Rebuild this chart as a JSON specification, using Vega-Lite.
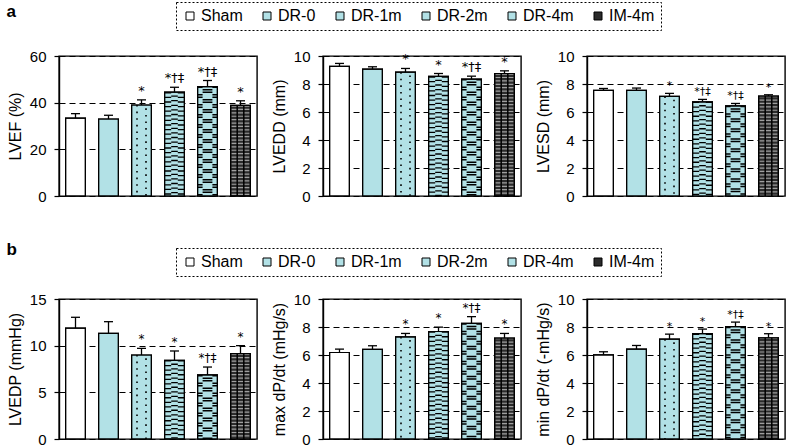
{
"$schema": "https://vega.github.io/schema/vega-lite/v6.json",
"padding": {"left": 6, "top": 0, "right": 2, "bottom": 0},
"background": "white",
"datasets": {
"LVEF": [{"group":"Sham","mean":33.4,"upper":35.3,"sig":""},{"group":"DR-0","mean":33.0,"upper":34.6,"sig":""},{"group":"DR-1m","mean":39.0,"upper":41.2,"sig":"*"},{"group":"DR-2m","mean":44.5,"upper":46.6,"sig":"*†‡"},{"group":"DR-4m","mean":46.9,"upper":49.5,"sig":"*†‡"},{"group":"IM-4m","mean":38.8,"upper":40.8,"sig":"*"}],
"LVEDD": [{"group":"Sham","mean":9.26,"upper":9.47,"sig":""},{"group":"DR-0","mean":9.06,"upper":9.23,"sig":""},{"group":"DR-1m","mean":8.85,"upper":9.11,"sig":"*"},{"group":"DR-2m","mean":8.54,"upper":8.75,"sig":"*"},{"group":"DR-4m","mean":8.35,"upper":8.56,"sig":"*†‡"},{"group":"IM-4m","mean":8.75,"upper":8.94,"sig":"*"}],
"LVESD": [{"group":"Sham","mean":7.54,"upper":7.68,"sig":""},{"group":"DR-0","mean":7.54,"upper":7.71,"sig":""},{"group":"DR-1m","mean":7.11,"upper":7.33,"sig":"*"},{"group":"DR-2m","mean":6.73,"upper":6.9,"sig":"*†‡"},{"group":"DR-4m","mean":6.44,"upper":6.61,"sig":"*†‡"},{"group":"IM-4m","mean":7.14,"upper":7.23,"sig":"*"}],
"LVEDP": [{"group":"Sham","mean":11.89,"upper":13.04,"sig":""},{"group":"DR-0","mean":11.32,"upper":12.57,"sig":""},{"group":"DR-1m","mean":9.0,"upper":9.71,"sig":"*"},{"group":"DR-2m","mean":8.43,"upper":9.43,"sig":"*"},{"group":"DR-4m","mean":6.86,"upper":7.71,"sig":"*†‡"},{"group":"IM-4m","mean":9.14,"upper":10.0,"sig":"*"}],
"maxdPdt": [{"group":"Sham","mean":6.18,"upper":6.42,"sig":""},{"group":"DR-0","mean":6.4,"upper":6.66,"sig":""},{"group":"DR-1m","mean":7.3,"upper":7.54,"sig":"*"},{"group":"DR-2m","mean":7.68,"upper":7.99,"sig":"*"},{"group":"DR-4m","mean":8.26,"upper":8.74,"sig":"*†‡"},{"group":"IM-4m","mean":7.21,"upper":7.54,"sig":"*"}],
"mindPdt": [{"group":"Sham","mean":6.01,"upper":6.23,"sig":""},{"group":"DR-0","mean":6.42,"upper":6.68,"sig":""},{"group":"DR-1m","mean":7.14,"upper":7.49,"sig":"*"},{"group":"DR-2m","mean":7.52,"upper":7.85,"sig":"*"},{"group":"DR-4m","mean":8.02,"upper":8.35,"sig":"*†‡"},{"group":"IM-4m","mean":7.23,"upper":7.52,"sig":"*"}]
},
"spacing": 34,
"resolve": {"scale": {"fill": "independent"}},
"vconcat": [
{
"title": {"text": "a", "anchor": "start", "fontSize": 17, "fontWeight": "bold", "offset": -20},
"bounds": "flush",
"spacing": 66,
"resolve": {"scale": {"fill": "independent"}},
"hconcat": [
{"width": 198, "height": 140, "data": {"name": "LVEF"},
"encoding": {"x": {"field": "group", "type": "nominal", "axis": null, "scale": {"domain": ["Sham","DR-0","DR-1m","DR-2m","DR-4m","IM-4m"], "paddingInner": 0.4, "paddingOuter": 0.2}}},
"layer": [
{"mark": {"type": "bar", "stroke": "black", "strokeWidth": 1.2}, "encoding": {"y": {"field": "mean", "type": "quantitative", "title": "LVEF (%)", "scale": {"domain": [0, 60], "nice": false}, "axis": {"values": [0, 20, 40, 60]}}, "fill": {"field": "group", "type": "nominal", "scale": {"domain": ["Sham","DR-0","DR-1m","DR-2m","DR-4m","IM-4m"], "range": ["#ffffff","#b2e1e6","#b2e1e6","#b2e1e6","#b2e1e6","#2b2b2b"]}, "legend": null}}},
{"encoding": {"y": {"field": "mean", "type": "quantitative", "title": "LVEF (%)"}, "y2": {"datum": 0}},
"layer": [
{"transform": [{"filter": "datum.group === 'DR-1m'"}], "mark": {"type": "rule", "color": "#000", "strokeWidth": 1.6, "strokeDash": [1.6, 5], "xOffset": -4.5}},
{"transform": [{"filter": "datum.group === 'DR-1m'"}], "mark": {"type": "rule", "color": "#000", "strokeWidth": 1.6, "strokeDash": [1.6, 5], "strokeDashOffset": 3.3, "xOffset": 4.5}},
{"transform": [{"filter": "datum.group === 'DR-2m'"}], "mark": {"type": "rule", "color": "#000", "strokeWidth": 6.6, "strokeDash": [1.3, 3.3], "xOffset": -6.6}},
{"transform": [{"filter": "datum.group === 'DR-2m'"}], "mark": {"type": "rule", "color": "#000", "strokeWidth": 6.6, "strokeDash": [1.3, 3.3], "strokeDashOffset": 1.3, "xOffset": 0}},
{"transform": [{"filter": "datum.group === 'DR-2m'"}], "mark": {"type": "rule", "color": "#000", "strokeWidth": 6.6, "strokeDash": [1.3, 3.3], "xOffset": 6.6}},
{"transform": [{"filter": "datum.group === 'DR-4m'"}], "mark": {"type": "rule", "color": "#000", "strokeWidth": 4.9, "strokeDash": [1.5, 6, 1.5, 1], "xOffset": -7.35}},
{"transform": [{"filter": "datum.group === 'DR-4m'"}], "mark": {"type": "rule", "color": "#000", "strokeWidth": 4.9, "strokeDash": [1.5, 6, 1.5, 1], "xOffset": 7.35}},
{"transform": [{"filter": "datum.group === 'DR-4m'"}], "mark": {"type": "rule", "color": "#000", "strokeWidth": 9.8, "strokeDash": [1.5, 1, 1.5, 6], "strokeDashOffset": 7.5, "xOffset": 0}},
{"transform": [{"filter": "datum.group === 'IM-4m'"}], "mark": {"type": "rule", "color": "#ffffff", "opacity": 0.55, "strokeWidth": 18, "strokeDash": [1.2, 2.2]}},
{"transform": [{"filter": "datum.group === 'IM-4m'"}], "mark": {"type": "rule", "color": "#000", "strokeWidth": 1.5, "xOffset": -3.3}},
{"transform": [{"filter": "datum.group === 'IM-4m'"}], "mark": {"type": "rule", "color": "#000", "strokeWidth": 1.5, "xOffset": 3.3}}
]},
{"mark": {"type": "bar", "fillOpacity": 0, "stroke": "black", "strokeWidth": 1.2}, "encoding": {"y": {"field": "mean", "type": "quantitative", "title": "LVEF (%)"}}},
{"mark": {"type": "rule", "color": "black", "strokeWidth": 1.3}, "encoding": {"y": {"field": "mean", "type": "quantitative", "title": "LVEF (%)"}, "y2": {"field": "upper"}}},
{"mark": {"type": "tick", "color": "black", "size": 9, "thickness": 1.3, "opacity": 1}, "encoding": {"y": {"field": "upper", "type": "quantitative", "title": "LVEF (%)"}}},
{"mark": {"type": "text", "color": "black", "font": "DejaVu Sans", "baseline": "bottom", "dy": -2, "fontSize": 13}, "encoding": {"y": {"field": "upper", "type": "quantitative", "title": "LVEF (%)"}, "text": {"field": "sig"}}}
]},
{"width": 198, "height": 140, "data": {"name": "LVEDD"},
"encoding": {"x": {"field": "group", "type": "nominal", "axis": null, "scale": {"domain": ["Sham","DR-0","DR-1m","DR-2m","DR-4m","IM-4m"], "paddingInner": 0.4, "paddingOuter": 0.2}}},
"layer": [
{"mark": {"type": "bar", "stroke": "black", "strokeWidth": 1.2}, "encoding": {"y": {"field": "mean", "type": "quantitative", "title": "LVEDD (mm)", "scale": {"domain": [0, 10], "nice": false}, "axis": {"values": [0, 2, 4, 6, 8, 10]}}, "fill": {"field": "group", "type": "nominal", "scale": {"domain": ["Sham","DR-0","DR-1m","DR-2m","DR-4m","IM-4m"], "range": ["#ffffff","#b2e1e6","#b2e1e6","#b2e1e6","#b2e1e6","#2b2b2b"]}, "legend": {"orient": "none", "legendX": -147, "legendY": -54, "direction": "horizontal", "title": null, "encode": {"legend": {"update": {"strokeDash": {"value": [2, 2]}}}}}}}},
{"encoding": {"y": {"field": "mean", "type": "quantitative", "title": "LVEDD (mm)"}, "y2": {"datum": 0}},
"layer": [
{"transform": [{"filter": "datum.group === 'DR-1m'"}], "mark": {"type": "rule", "color": "#000", "strokeWidth": 1.6, "strokeDash": [1.6, 5], "xOffset": -4.5}},
{"transform": [{"filter": "datum.group === 'DR-1m'"}], "mark": {"type": "rule", "color": "#000", "strokeWidth": 1.6, "strokeDash": [1.6, 5], "strokeDashOffset": 3.3, "xOffset": 4.5}},
{"transform": [{"filter": "datum.group === 'DR-2m'"}], "mark": {"type": "rule", "color": "#000", "strokeWidth": 6.6, "strokeDash": [1.3, 3.3], "xOffset": -6.6}},
{"transform": [{"filter": "datum.group === 'DR-2m'"}], "mark": {"type": "rule", "color": "#000", "strokeWidth": 6.6, "strokeDash": [1.3, 3.3], "strokeDashOffset": 1.3, "xOffset": 0}},
{"transform": [{"filter": "datum.group === 'DR-2m'"}], "mark": {"type": "rule", "color": "#000", "strokeWidth": 6.6, "strokeDash": [1.3, 3.3], "xOffset": 6.6}},
{"transform": [{"filter": "datum.group === 'DR-4m'"}], "mark": {"type": "rule", "color": "#000", "strokeWidth": 4.9, "strokeDash": [1.5, 6, 1.5, 1], "xOffset": -7.35}},
{"transform": [{"filter": "datum.group === 'DR-4m'"}], "mark": {"type": "rule", "color": "#000", "strokeWidth": 4.9, "strokeDash": [1.5, 6, 1.5, 1], "xOffset": 7.35}},
{"transform": [{"filter": "datum.group === 'DR-4m'"}], "mark": {"type": "rule", "color": "#000", "strokeWidth": 9.8, "strokeDash": [1.5, 1, 1.5, 6], "strokeDashOffset": 7.5, "xOffset": 0}},
{"transform": [{"filter": "datum.group === 'IM-4m'"}], "mark": {"type": "rule", "color": "#ffffff", "opacity": 0.55, "strokeWidth": 18, "strokeDash": [1.2, 2.2]}},
{"transform": [{"filter": "datum.group === 'IM-4m'"}], "mark": {"type": "rule", "color": "#000", "strokeWidth": 1.5, "xOffset": -3.3}},
{"transform": [{"filter": "datum.group === 'IM-4m'"}], "mark": {"type": "rule", "color": "#000", "strokeWidth": 1.5, "xOffset": 3.3}}
]},
{"mark": {"type": "bar", "fillOpacity": 0, "stroke": "black", "strokeWidth": 1.2}, "encoding": {"y": {"field": "mean", "type": "quantitative", "title": "LVEDD (mm)"}}},
{"mark": {"type": "rule", "color": "black", "strokeWidth": 1.3}, "encoding": {"y": {"field": "mean", "type": "quantitative", "title": "LVEDD (mm)"}, "y2": {"field": "upper"}}},
{"mark": {"type": "tick", "color": "black", "size": 9, "thickness": 1.3, "opacity": 1}, "encoding": {"y": {"field": "upper", "type": "quantitative", "title": "LVEDD (mm)"}}},
{"mark": {"type": "text", "color": "black", "font": "DejaVu Sans", "baseline": "bottom", "dy": -2, "fontSize": 13}, "encoding": {"y": {"field": "upper", "type": "quantitative", "title": "LVEDD (mm)"}, "text": {"field": "sig"}}}
]},
{"width": 198, "height": 140, "data": {"name": "LVESD"},
"encoding": {"x": {"field": "group", "type": "nominal", "axis": null, "scale": {"domain": ["Sham","DR-0","DR-1m","DR-2m","DR-4m","IM-4m"], "paddingInner": 0.4, "paddingOuter": 0.2}}},
"layer": [
{"mark": {"type": "bar", "stroke": "black", "strokeWidth": 1.2}, "encoding": {"y": {"field": "mean", "type": "quantitative", "title": "LVESD (mm)", "scale": {"domain": [0, 10], "nice": false}, "axis": {"values": [0, 2, 4, 6, 8, 10]}}, "fill": {"field": "group", "type": "nominal", "scale": {"domain": ["Sham","DR-0","DR-1m","DR-2m","DR-4m","IM-4m"], "range": ["#ffffff","#b2e1e6","#b2e1e6","#b2e1e6","#b2e1e6","#2b2b2b"]}, "legend": null}}},
{"encoding": {"y": {"field": "mean", "type": "quantitative", "title": "LVESD (mm)"}, "y2": {"datum": 0}},
"layer": [
{"transform": [{"filter": "datum.group === 'DR-1m'"}], "mark": {"type": "rule", "color": "#000", "strokeWidth": 1.6, "strokeDash": [1.6, 5], "xOffset": -4.5}},
{"transform": [{"filter": "datum.group === 'DR-1m'"}], "mark": {"type": "rule", "color": "#000", "strokeWidth": 1.6, "strokeDash": [1.6, 5], "strokeDashOffset": 3.3, "xOffset": 4.5}},
{"transform": [{"filter": "datum.group === 'DR-2m'"}], "mark": {"type": "rule", "color": "#000", "strokeWidth": 6.6, "strokeDash": [1.3, 3.3], "xOffset": -6.6}},
{"transform": [{"filter": "datum.group === 'DR-2m'"}], "mark": {"type": "rule", "color": "#000", "strokeWidth": 6.6, "strokeDash": [1.3, 3.3], "strokeDashOffset": 1.3, "xOffset": 0}},
{"transform": [{"filter": "datum.group === 'DR-2m'"}], "mark": {"type": "rule", "color": "#000", "strokeWidth": 6.6, "strokeDash": [1.3, 3.3], "xOffset": 6.6}},
{"transform": [{"filter": "datum.group === 'DR-4m'"}], "mark": {"type": "rule", "color": "#000", "strokeWidth": 4.9, "strokeDash": [1.5, 6, 1.5, 1], "xOffset": -7.35}},
{"transform": [{"filter": "datum.group === 'DR-4m'"}], "mark": {"type": "rule", "color": "#000", "strokeWidth": 4.9, "strokeDash": [1.5, 6, 1.5, 1], "xOffset": 7.35}},
{"transform": [{"filter": "datum.group === 'DR-4m'"}], "mark": {"type": "rule", "color": "#000", "strokeWidth": 9.8, "strokeDash": [1.5, 1, 1.5, 6], "strokeDashOffset": 7.5, "xOffset": 0}},
{"transform": [{"filter": "datum.group === 'IM-4m'"}], "mark": {"type": "rule", "color": "#ffffff", "opacity": 0.55, "strokeWidth": 18, "strokeDash": [1.2, 2.2]}},
{"transform": [{"filter": "datum.group === 'IM-4m'"}], "mark": {"type": "rule", "color": "#000", "strokeWidth": 1.5, "xOffset": -3.3}},
{"transform": [{"filter": "datum.group === 'IM-4m'"}], "mark": {"type": "rule", "color": "#000", "strokeWidth": 1.5, "xOffset": 3.3}}
]},
{"mark": {"type": "bar", "fillOpacity": 0, "stroke": "black", "strokeWidth": 1.2}, "encoding": {"y": {"field": "mean", "type": "quantitative", "title": "LVESD (mm)"}}},
{"mark": {"type": "rule", "color": "black", "strokeWidth": 1.3}, "encoding": {"y": {"field": "mean", "type": "quantitative", "title": "LVESD (mm)"}, "y2": {"field": "upper"}}},
{"mark": {"type": "tick", "color": "black", "size": 9, "thickness": 1.3, "opacity": 1}, "encoding": {"y": {"field": "upper", "type": "quantitative", "title": "LVESD (mm)"}}},
{"mark": {"type": "text", "color": "black", "font": "DejaVu Sans", "baseline": "bottom", "dy": -2, "fontSize": 11}, "encoding": {"y": {"field": "upper", "type": "quantitative", "title": "LVESD (mm)"}, "text": {"field": "sig"}}}
]}
]
},
{
"title": {"text": "b", "anchor": "start", "fontSize": 17, "fontWeight": "bold", "offset": -12},
"bounds": "flush",
"spacing": 66,
"resolve": {"scale": {"fill": "independent"}},
"hconcat": [
{"width": 198, "height": 140, "data": {"name": "LVEDP"},
"encoding": {"x": {"field": "group", "type": "nominal", "axis": null, "scale": {"domain": ["Sham","DR-0","DR-1m","DR-2m","DR-4m","IM-4m"], "paddingInner": 0.4, "paddingOuter": 0.2}}},
"layer": [
{"mark": {"type": "bar", "stroke": "black", "strokeWidth": 1.2}, "encoding": {"y": {"field": "mean", "type": "quantitative", "title": "LVEDP (mmHg)", "scale": {"domain": [0, 15], "nice": false}, "axis": {"values": [0, 5, 10, 15]}}, "fill": {"field": "group", "type": "nominal", "scale": {"domain": ["Sham","DR-0","DR-1m","DR-2m","DR-4m","IM-4m"], "range": ["#ffffff","#b2e1e6","#b2e1e6","#b2e1e6","#b2e1e6","#2b2b2b"]}, "legend": null}}},
{"encoding": {"y": {"field": "mean", "type": "quantitative", "title": "LVEDP (mmHg)"}, "y2": {"datum": 0}},
"layer": [
{"transform": [{"filter": "datum.group === 'DR-1m'"}], "mark": {"type": "rule", "color": "#000", "strokeWidth": 1.6, "strokeDash": [1.6, 5], "xOffset": -4.5}},
{"transform": [{"filter": "datum.group === 'DR-1m'"}], "mark": {"type": "rule", "color": "#000", "strokeWidth": 1.6, "strokeDash": [1.6, 5], "strokeDashOffset": 3.3, "xOffset": 4.5}},
{"transform": [{"filter": "datum.group === 'DR-2m'"}], "mark": {"type": "rule", "color": "#000", "strokeWidth": 6.6, "strokeDash": [1.3, 3.3], "xOffset": -6.6}},
{"transform": [{"filter": "datum.group === 'DR-2m'"}], "mark": {"type": "rule", "color": "#000", "strokeWidth": 6.6, "strokeDash": [1.3, 3.3], "strokeDashOffset": 1.3, "xOffset": 0}},
{"transform": [{"filter": "datum.group === 'DR-2m'"}], "mark": {"type": "rule", "color": "#000", "strokeWidth": 6.6, "strokeDash": [1.3, 3.3], "xOffset": 6.6}},
{"transform": [{"filter": "datum.group === 'DR-4m'"}], "mark": {"type": "rule", "color": "#000", "strokeWidth": 4.9, "strokeDash": [1.5, 6, 1.5, 1], "xOffset": -7.35}},
{"transform": [{"filter": "datum.group === 'DR-4m'"}], "mark": {"type": "rule", "color": "#000", "strokeWidth": 4.9, "strokeDash": [1.5, 6, 1.5, 1], "xOffset": 7.35}},
{"transform": [{"filter": "datum.group === 'DR-4m'"}], "mark": {"type": "rule", "color": "#000", "strokeWidth": 9.8, "strokeDash": [1.5, 1, 1.5, 6], "strokeDashOffset": 7.5, "xOffset": 0}},
{"transform": [{"filter": "datum.group === 'IM-4m'"}], "mark": {"type": "rule", "color": "#ffffff", "opacity": 0.55, "strokeWidth": 18, "strokeDash": [1.2, 2.2]}},
{"transform": [{"filter": "datum.group === 'IM-4m'"}], "mark": {"type": "rule", "color": "#000", "strokeWidth": 1.5, "xOffset": -3.3}},
{"transform": [{"filter": "datum.group === 'IM-4m'"}], "mark": {"type": "rule", "color": "#000", "strokeWidth": 1.5, "xOffset": 3.3}}
]},
{"mark": {"type": "bar", "fillOpacity": 0, "stroke": "black", "strokeWidth": 1.2}, "encoding": {"y": {"field": "mean", "type": "quantitative", "title": "LVEDP (mmHg)"}}},
{"mark": {"type": "rule", "color": "black", "strokeWidth": 1.3}, "encoding": {"y": {"field": "mean", "type": "quantitative", "title": "LVEDP (mmHg)"}, "y2": {"field": "upper"}}},
{"mark": {"type": "tick", "color": "black", "size": 9, "thickness": 1.3, "opacity": 1}, "encoding": {"y": {"field": "upper", "type": "quantitative", "title": "LVEDP (mmHg)"}}},
{"mark": {"type": "text", "color": "black", "font": "DejaVu Sans", "baseline": "bottom", "dy": -2, "fontSize": 12}, "encoding": {"y": {"field": "upper", "type": "quantitative", "title": "LVEDP (mmHg)"}, "text": {"field": "sig"}}}
]},
{"width": 198, "height": 140, "data": {"name": "maxdPdt"},
"encoding": {"x": {"field": "group", "type": "nominal", "axis": null, "scale": {"domain": ["Sham","DR-0","DR-1m","DR-2m","DR-4m","IM-4m"], "paddingInner": 0.4, "paddingOuter": 0.2}}},
"layer": [
{"mark": {"type": "bar", "stroke": "black", "strokeWidth": 1.2}, "encoding": {"y": {"field": "mean", "type": "quantitative", "title": "max dP/dt (mHg/s)", "scale": {"domain": [0, 10], "nice": false}, "axis": {"values": [0, 2, 4, 6, 8, 10]}}, "fill": {"field": "group", "type": "nominal", "scale": {"domain": ["Sham","DR-0","DR-1m","DR-2m","DR-4m","IM-4m"], "range": ["#ffffff","#b2e1e6","#b2e1e6","#b2e1e6","#b2e1e6","#2b2b2b"]}, "legend": {"orient": "none", "legendX": -147, "legendY": -51, "direction": "horizontal", "title": null, "encode": {"legend": {"update": {"strokeDash": {"value": [2, 2]}}}}}}}},
{"encoding": {"y": {"field": "mean", "type": "quantitative", "title": "max dP/dt (mHg/s)"}, "y2": {"datum": 0}},
"layer": [
{"transform": [{"filter": "datum.group === 'DR-1m'"}], "mark": {"type": "rule", "color": "#000", "strokeWidth": 1.6, "strokeDash": [1.6, 5], "xOffset": -4.5}},
{"transform": [{"filter": "datum.group === 'DR-1m'"}], "mark": {"type": "rule", "color": "#000", "strokeWidth": 1.6, "strokeDash": [1.6, 5], "strokeDashOffset": 3.3, "xOffset": 4.5}},
{"transform": [{"filter": "datum.group === 'DR-2m'"}], "mark": {"type": "rule", "color": "#000", "strokeWidth": 6.6, "strokeDash": [1.3, 3.3], "xOffset": -6.6}},
{"transform": [{"filter": "datum.group === 'DR-2m'"}], "mark": {"type": "rule", "color": "#000", "strokeWidth": 6.6, "strokeDash": [1.3, 3.3], "strokeDashOffset": 1.3, "xOffset": 0}},
{"transform": [{"filter": "datum.group === 'DR-2m'"}], "mark": {"type": "rule", "color": "#000", "strokeWidth": 6.6, "strokeDash": [1.3, 3.3], "xOffset": 6.6}},
{"transform": [{"filter": "datum.group === 'DR-4m'"}], "mark": {"type": "rule", "color": "#000", "strokeWidth": 4.9, "strokeDash": [1.5, 6, 1.5, 1], "xOffset": -7.35}},
{"transform": [{"filter": "datum.group === 'DR-4m'"}], "mark": {"type": "rule", "color": "#000", "strokeWidth": 4.9, "strokeDash": [1.5, 6, 1.5, 1], "xOffset": 7.35}},
{"transform": [{"filter": "datum.group === 'DR-4m'"}], "mark": {"type": "rule", "color": "#000", "strokeWidth": 9.8, "strokeDash": [1.5, 1, 1.5, 6], "strokeDashOffset": 7.5, "xOffset": 0}},
{"transform": [{"filter": "datum.group === 'IM-4m'"}], "mark": {"type": "rule", "color": "#ffffff", "opacity": 0.55, "strokeWidth": 18, "strokeDash": [1.2, 2.2]}},
{"transform": [{"filter": "datum.group === 'IM-4m'"}], "mark": {"type": "rule", "color": "#000", "strokeWidth": 1.5, "xOffset": -3.3}},
{"transform": [{"filter": "datum.group === 'IM-4m'"}], "mark": {"type": "rule", "color": "#000", "strokeWidth": 1.5, "xOffset": 3.3}}
]},
{"mark": {"type": "bar", "fillOpacity": 0, "stroke": "black", "strokeWidth": 1.2}, "encoding": {"y": {"field": "mean", "type": "quantitative", "title": "max dP/dt (mHg/s)"}}},
{"mark": {"type": "rule", "color": "black", "strokeWidth": 1.3}, "encoding": {"y": {"field": "mean", "type": "quantitative", "title": "max dP/dt (mHg/s)"}, "y2": {"field": "upper"}}},
{"mark": {"type": "tick", "color": "black", "size": 9, "thickness": 1.3, "opacity": 1}, "encoding": {"y": {"field": "upper", "type": "quantitative", "title": "max dP/dt (mHg/s)"}}},
{"mark": {"type": "text", "color": "black", "font": "DejaVu Sans", "baseline": "bottom", "dy": -2, "fontSize": 12}, "encoding": {"y": {"field": "upper", "type": "quantitative", "title": "max dP/dt (mHg/s)"}, "text": {"field": "sig"}}}
]},
{"width": 198, "height": 140, "data": {"name": "mindPdt"},
"encoding": {"x": {"field": "group", "type": "nominal", "axis": null, "scale": {"domain": ["Sham","DR-0","DR-1m","DR-2m","DR-4m","IM-4m"], "paddingInner": 0.4, "paddingOuter": 0.2}}},
"layer": [
{"mark": {"type": "bar", "stroke": "black", "strokeWidth": 1.2}, "encoding": {"y": {"field": "mean", "type": "quantitative", "title": "min dP/dt (-mHg/s)", "scale": {"domain": [0, 10], "nice": false}, "axis": {"values": [0, 2, 4, 6, 8, 10]}}, "fill": {"field": "group", "type": "nominal", "scale": {"domain": ["Sham","DR-0","DR-1m","DR-2m","DR-4m","IM-4m"], "range": ["#ffffff","#b2e1e6","#b2e1e6","#b2e1e6","#b2e1e6","#2b2b2b"]}, "legend": null}}},
{"encoding": {"y": {"field": "mean", "type": "quantitative", "title": "min dP/dt (-mHg/s)"}, "y2": {"datum": 0}},
"layer": [
{"transform": [{"filter": "datum.group === 'DR-1m'"}], "mark": {"type": "rule", "color": "#000", "strokeWidth": 1.6, "strokeDash": [1.6, 5], "xOffset": -4.5}},
{"transform": [{"filter": "datum.group === 'DR-1m'"}], "mark": {"type": "rule", "color": "#000", "strokeWidth": 1.6, "strokeDash": [1.6, 5], "strokeDashOffset": 3.3, "xOffset": 4.5}},
{"transform": [{"filter": "datum.group === 'DR-2m'"}], "mark": {"type": "rule", "color": "#000", "strokeWidth": 6.6, "strokeDash": [1.3, 3.3], "xOffset": -6.6}},
{"transform": [{"filter": "datum.group === 'DR-2m'"}], "mark": {"type": "rule", "color": "#000", "strokeWidth": 6.6, "strokeDash": [1.3, 3.3], "strokeDashOffset": 1.3, "xOffset": 0}},
{"transform": [{"filter": "datum.group === 'DR-2m'"}], "mark": {"type": "rule", "color": "#000", "strokeWidth": 6.6, "strokeDash": [1.3, 3.3], "xOffset": 6.6}},
{"transform": [{"filter": "datum.group === 'DR-4m'"}], "mark": {"type": "rule", "color": "#000", "strokeWidth": 4.9, "strokeDash": [1.5, 6, 1.5, 1], "xOffset": -7.35}},
{"transform": [{"filter": "datum.group === 'DR-4m'"}], "mark": {"type": "rule", "color": "#000", "strokeWidth": 4.9, "strokeDash": [1.5, 6, 1.5, 1], "xOffset": 7.35}},
{"transform": [{"filter": "datum.group === 'DR-4m'"}], "mark": {"type": "rule", "color": "#000", "strokeWidth": 9.8, "strokeDash": [1.5, 1, 1.5, 6], "strokeDashOffset": 7.5, "xOffset": 0}},
{"transform": [{"filter": "datum.group === 'IM-4m'"}], "mark": {"type": "rule", "color": "#ffffff", "opacity": 0.55, "strokeWidth": 18, "strokeDash": [1.2, 2.2]}},
{"transform": [{"filter": "datum.group === 'IM-4m'"}], "mark": {"type": "rule", "color": "#000", "strokeWidth": 1.5, "xOffset": -3.3}},
{"transform": [{"filter": "datum.group === 'IM-4m'"}], "mark": {"type": "rule", "color": "#000", "strokeWidth": 1.5, "xOffset": 3.3}}
]},
{"mark": {"type": "bar", "fillOpacity": 0, "stroke": "black", "strokeWidth": 1.2}, "encoding": {"y": {"field": "mean", "type": "quantitative", "title": "min dP/dt (-mHg/s)"}}},
{"mark": {"type": "rule", "color": "black", "strokeWidth": 1.3}, "encoding": {"y": {"field": "mean", "type": "quantitative", "title": "min dP/dt (-mHg/s)"}, "y2": {"field": "upper"}}},
{"mark": {"type": "tick", "color": "black", "size": 9, "thickness": 1.3, "opacity": 1}, "encoding": {"y": {"field": "upper", "type": "quantitative", "title": "min dP/dt (-mHg/s)"}}},
{"mark": {"type": "text", "color": "black", "font": "DejaVu Sans", "baseline": "bottom", "dy": -2, "fontSize": 11}, "encoding": {"y": {"field": "upper", "type": "quantitative", "title": "min dP/dt (-mHg/s)"}, "text": {"field": "sig"}}}
]}
]
}
],
"config": {
"font": "Liberation Sans",
"view": {"stroke": "black", "strokeWidth": 1.4},
"title": {"color": "black", "font": "Liberation Sans"},
"axis": {"tickCount": 20, "format": "d", "grid": true, "gridColor": "black", "gridDash": [6, 4], "gridWidth": 1.2, "gridOpacity": 1, "domainColor": "black", "domainWidth": 1.4, "tickColor": "black", "tickSize": 5, "tickWidth": 1.2, "labelFontSize": 15, "labelColor": "black", "labelFont": "Liberation Sans", "labelPadding": 8, "titleFontSize": 16, "titleFontWeight": "normal", "titleColor": "black", "titleFont": "Liberation Sans", "titlePadding": 6},
"legend": {"symbolType": "square", "symbolSize": 64, "symbolStrokeColor": "black", "symbolStrokeWidth": 1, "labelFontSize": 16, "labelColor": "black", "labelFont": "Liberation Sans", "labelOffset": 3, "columnPadding": 16, "padding": 6, "strokeColor": "black"}
}
}
